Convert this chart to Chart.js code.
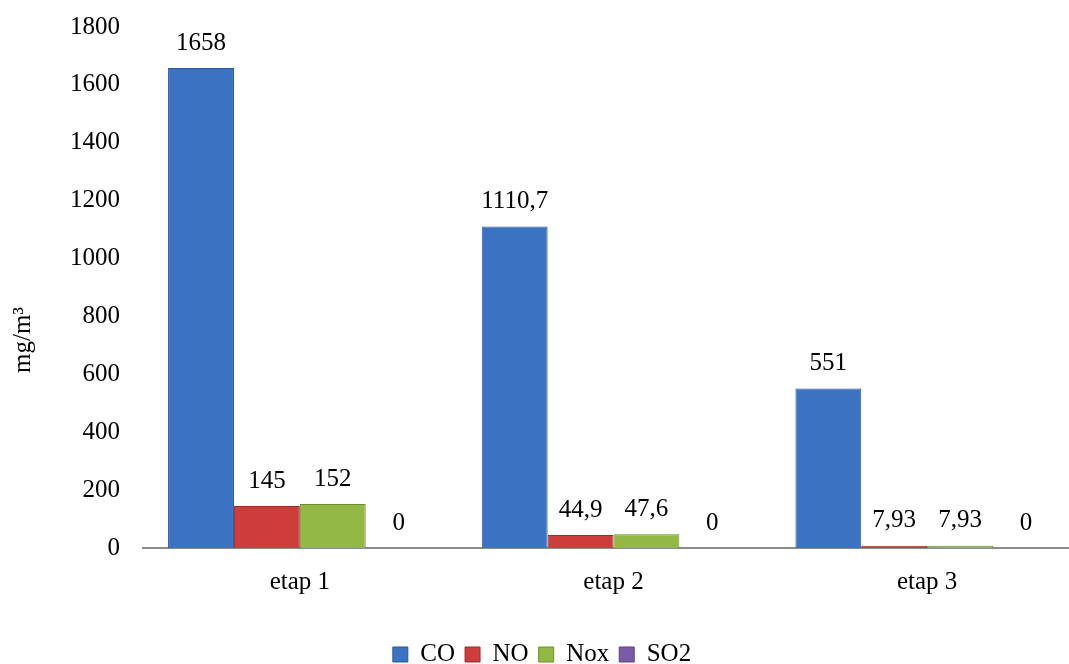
<!DOCTYPE html>
<html lang="ro">
<head>
  <meta charset="UTF-8">
  <title>Emisii pe etape</title>
  <script src="https://cdn.jsdelivr.net/npm/chart.js"></script>
  <style>
    html, body { margin: 0; padding: 0; background: #fff; overflow: hidden; }
    #grafic { display: block; }
  </style>
</head>
<body>
<canvas id="grafic" width="1100" height="677"></canvas>

<script>
const etape = ["etap 1", "etap 2", "etap 3"];
const valoriCO = [1658, 1110.7, 551];
const valoriNO = [145, 44.9, 7.93];
const valoriNox = [152, 47.6, 7.93];
const valoriSO2 = [0, 0, 0];
const ticksY = [0, 200, 400, 600, 800, 1000, 1200, 1400, 1600, 1800];

const FONT = "'Liberation Serif', 'Times New Roman', serif";
const MARIME = 25;

function serie(nume, valori, culoare, margine) {
  return {
    label: nume,
    data: valori,
    backgroundColor: culoare,
    borderColor: margine,
    borderWidth: 1,
    categoryPercentage: 0.84,
    barPercentage: 1.0
  };
}

// valorile deasupra coloanelor, cu virgula zecimala
const eticheteValori = {
  id: "eticheteValori",
  afterDatasetsDraw(chart) {
    const ctx = chart.ctx;
    ctx.save();
    ctx.font = MARIME + "px " + FONT;
    ctx.fillStyle = "#000";
    ctx.textAlign = "center";
    ctx.textBaseline = "middle";
    chart.data.datasets.forEach((ds, i) => {
      chart.getDatasetMeta(i).data.forEach((bar, j) => {
        const text = String(ds.data[j]).replace(".", ",");
        ctx.fillText(text, bar.x, bar.y - 25);
      });
    });
    ctx.restore();
  }
};

// titlul axei Y, asezat mai jos de mijlocul axei
const titluAxaY = {
  id: "titluAxaY",
  afterDraw(chart) {
    const ctx = chart.ctx;
    ctx.save();
    ctx.translate(23, 340);
    ctx.rotate(-Math.PI / 2);
    ctx.font = MARIME + "px " + FONT;
    ctx.fillStyle = "#000";
    ctx.textAlign = "center";
    ctx.textBaseline = "middle";
    ctx.fillText("mg/m³", 0, 0);
    ctx.restore();
  }
};

new Chart(document.getElementById("grafic"), {
  type: "bar",
  data: {
    labels: etape,
    datasets: [
      serie("CO", valoriCO, "#3b72c2", "#2c5a9c"),
      serie("NO", valoriNO, "#cc3d3b", "#9e2c2a"),
      serie("Nox", valoriNox, "#93b845", "#6f8e2e"),
      serie("SO2", valoriSO2, "#7b5ba8", "#5c4282")
    ]
  },
  options: {
    responsive: false,
    animation: false,
    layout: { padding: { top: 27, right: 16, left: 0, bottom: 0 } },
    plugins: {
      legend: {
        position: "bottom",
        labels: {
          font: { family: FONT, size: MARIME },
          color: "#000",
          boxWidth: 15,
          boxHeight: 15,
          padding: 10
        }
      },
      tooltip: { enabled: false }
    },
    scales: {
      x: {
        grid: { display: false, drawTicks: false },
        border: { display: true, color: "#8c8c8c", width: 2 },
        ticks: { font: { family: FONT, size: MARIME }, color: "#000", padding: 19 },
        afterFit(scale) { scale.height = 84; }
      },
      y: {
        min: 0,
        max: 1800,
        afterBuildTicks(scale) { scale.ticks = ticksY.map(v => ({ value: v })); },
        grid: { display: false, drawTicks: false },
        border: { display: false },
        ticks: {
          font: { family: FONT, size: MARIME },
          color: "#000",
          padding: 23,
          callback: v => String(v)
        },
        afterFit(scale) {
          scale.width = 143;
          scale.paddingTop = 0;
        }
      }
    }
  },
  plugins: [eticheteValori, titluAxaY]
});
</script>
</body>
</html>
